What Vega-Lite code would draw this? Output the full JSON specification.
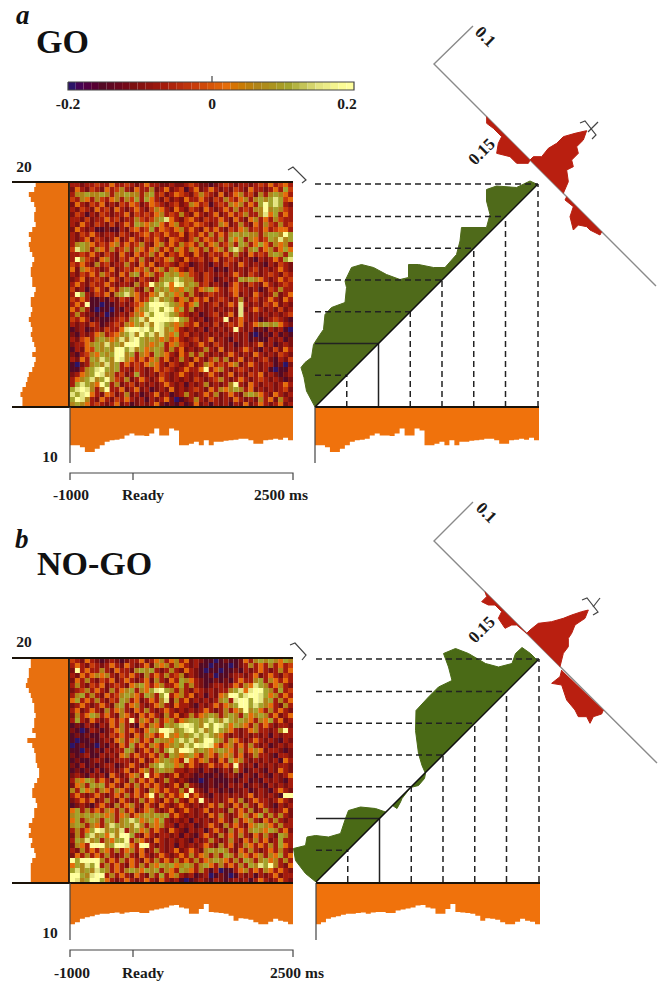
{
"$schema":"https://vega.github.io/schema/vega-lite/v6.json",
"width":662,"height":983,"padding":0,"autosize":{"type":"none"},"background":"#ffffff",
"config":{"view":{"stroke":null},"axis":{"disable":true}},
"resolve":{"scale":{"x":"independent","y":"independent"}},
"datasets":{
"heatA":[
{"r":0,"v":[3,3,2,3,3,4,3,3,5,3,3,4,3,2,3,5,3,3,2,2,3,2,2,3,4,3,2,2,1,2,3,4,3,2,3,3,2,3,4,3,5,3,4,5,3]},
{"r":1,"v":[2,5,3,2,4,3,2,5,3,4,6,3,2,5,3,3,6,2,3,5,2,3,4,1,3,5,2,3,5,3,2,3,2,4,3,2,5,3,3,2,3,5,3,7,4]},
{"r":2,"v":[3,6,6,7,6,6,7,6,3,6,6,7,6,6,3,6,7,3,4,2,3,5,4,3,2,4,6,4,3,2,5,2,3,5,6,3,4,2,6,3,6,7,6,5,3]},
{"r":3,"v":[4,3,6,5,3,6,4,3,5,6,3,6,4,7,3,7,5,3,2,4,2,3,2,5,3,3,5,3,2,4,3,6,4,3,5,6,3,6,7,6,7,8,7,4,5]},
{"r":4,"v":[2,5,3,2,4,3,5,2,3,2,4,3,5,4,2,3,5,4,3,2,3,4,2,3,6,5,3,4,1,3,4,3,6,5,6,3,5,3,7,9,7,8,7,3,2]},
{"r":5,"v":[3,2,4,3,2,5,3,4,2,5,3,2,3,5,3,2,4,6,5,3,2,5,3,2,4,3,2,5,3,2,3,5,3,6,3,4,3,6,6,9,6,7,6,4,3]},
{"r":6,"v":[2,4,3,1,3,2,4,3,2,3,3,5,2,4,3,4,3,5,6,3,4,3,6,3,2,5,3,2,3,5,2,3,5,3,4,6,3,3,6,8,5,7,3,5,3]},
{"r":7,"v":[3,3,2,4,2,3,3,5,3,4,2,3,3,6,4,3,4,6,7,8,5,3,2,4,5,3,2,4,3,3,5,3,2,5,3,2,5,6,3,5,3,6,4,3,3]},
{"r":8,"v":[3,2,5,3,2,4,3,2,4,2,3,5,3,7,6,5,6,7,5,3,5,6,3,4,3,5,4,3,2,3,6,5,2,3,6,3,2,5,3,6,4,3,6,3,4]},
{"r":9,"v":[2,5,3,2,3,1,1,2,1,1,3,2,4,5,3,4,7,3,5,4,3,5,6,3,5,3,2,5,3,5,3,2,4,3,5,6,3,4,3,5,3,4,5,5,3]},
{"r":10,"v":[3,2,4,3,5,3,2,3,3,2,4,3,2,3,4,5,3,4,3,5,3,3,5,2,4,3,5,3,6,3,5,3,6,7,6,7,6,6,3,6,7,7,6,9,7]},
{"r":11,"v":[3,2,3,5,2,4,3,2,3,5,2,3,5,3,2,4,3,5,3,2,5,4,3,2,4,6,3,5,4,3,6,3,7,5,7,3,6,5,3,4,7,6,8,6,7]},
{"r":12,"v":[3,6,7,6,5,3,4,3,5,6,3,5,3,4,6,3,2,5,6,3,5,3,6,4,5,3,6,3,5,6,3,4,6,3,7,6,3,5,7,5,3,6,5,6,3]},
{"r":13,"v":[4,8,7,6,3,6,5,3,6,3,4,6,3,6,5,3,5,6,3,5,3,6,5,3,6,5,3,6,3,5,6,3,7,8,6,3,6,7,3,5,6,3,5,7,5]},
{"r":14,"v":[3,3,4,3,5,3,2,4,3,2,5,3,2,5,3,4,6,3,5,2,4,3,5,3,2,5,3,2,4,3,3,5,3,6,3,2,5,3,4,3,6,7,6,3,7]},
{"r":15,"v":[3,9,6,4,3,2,5,6,3,2,4,3,5,3,6,3,2,4,3,5,6,3,2,5,3,3,4,2,3,5,2,3,4,3,2,3,2,1,3,2,3,5,3,7,8]},
{"r":16,"v":[4,3,5,3,2,6,3,4,2,3,3,6,3,2,5,3,5,2,3,4,3,2,4,3,1,2,3,2,1,3,2,4,3,2,5,3,2,3,2,1,3,2,4,3,2]},
{"r":17,"v":[5,2,6,5,4,3,2,3,5,2,3,4,3,5,4,6,3,5,6,3,6,5,3,2,4,2,3,2,3,1,2,1,3,2,3,2,3,4,2,3,2,3,5,3,2]},
{"r":18,"v":[3,2,4,3,5,3,6,4,3,2,5,3,6,7,3,5,6,3,4,7,6,7,5,6,4,3,2,4,3,2,3,2,3,5,3,2,4,3,2,3,4,3,2,4,3]},
{"r":19,"v":[2,3,5,2,3,4,3,2,5,3,2,4,3,2,4,3,2,3,6,7,7,8,7,6,6,3,2,4,3,1,2,3,2,3,7,6,7,6,5,3,2,3,5,3,4]},
{"r":20,"v":[3,5,3,2,4,3,3,5,3,2,3,3,2,6,3,4,9,6,7,8,5,9,8,6,7,6,3,4,2,3,2,1,3,5,3,2,4,3,2,5,3,2,3,4,3]},
{"r":21,"v":[4,2,3,1,3,5,3,2,5,3,6,7,6,3,2,6,3,7,6,7,5,6,5,7,6,3,5,6,7,5,3,2,4,5,3,3,2,3,1,2,4,3,6,3,3]},
{"r":22,"v":[3,9,7,3,2,4,3,5,2,6,7,8,6,5,3,3,5,6,8,6,7,5,6,3,6,3,2,3,4,3,3,2,3,5,2,3,2,5,3,2,3,6,2,3,5]},
{"r":23,"v":[4,3,5,3,1,1,2,1,3,2,4,3,2,5,3,4,7,8,6,7,6,3,5,6,3,5,3,5,2,3,4,3,2,3,6,2,3,4,2,3,5,3,2,5,3]},
{"r":24,"v":[3,5,3,9,1,1,0,1,1,2,3,2,3,4,5,7,9,9,9,8,7,6,5,3,5,7,3,2,3,4,2,3,5,3,8,3,2,3,2,4,3,5,2,3,2]},
{"r":25,"v":[5,3,6,3,1,0,1,1,0,2,1,3,2,5,6,7,8,9,7,9,8,5,7,3,6,2,3,2,3,2,3,2,3,2,8,2,3,5,3,2,3,2,4,2,3]},
{"r":26,"v":[3,6,3,2,2,1,2,0,1,2,3,2,4,6,5,8,7,9,9,8,7,6,4,3,2,3,1,2,3,4,2,3,5,2,8,3,2,3,2,3,2,3,2,3,4]},
{"r":27,"v":[4,3,5,3,1,2,1,1,2,3,4,3,6,7,8,6,9,9,9,9,8,9,7,6,3,2,3,1,2,3,3,9,2,3,5,3,2,3,1,2,3,4,3,2,1]},
{"r":28,"v":[3,2,3,2,4,3,1,2,3,4,3,6,5,7,6,8,6,9,8,7,6,5,6,4,3,5,2,3,2,4,2,3,4,3,5,2,3,5,6,7,6,7,5,3,2]},
{"r":29,"v":[1,2,3,1,2,3,2,4,3,3,5,8,9,9,8,9,7,9,8,6,7,5,3,2,3,2,3,1,3,2,3,2,3,9,3,2,3,1,2,1,3,2,3,1,0]},
{"r":30,"v":[2,1,3,2,3,5,6,3,4,5,6,7,8,6,9,7,8,6,8,6,5,7,3,4,2,3,2,3,2,3,2,3,2,3,2,3,1,0,1,2,1,3,1,2,1]},
{"r":31,"v":[3,2,4,5,3,6,7,6,5,6,8,6,8,9,7,6,7,6,5,6,4,5,3,2,3,4,2,3,5,2,3,2,1,3,2,3,1,2,1,1,3,2,3,1,2]},
{"r":32,"v":[2,3,3,5,6,7,6,8,6,7,6,9,9,9,7,6,5,6,7,3,5,6,4,3,2,3,5,3,2,4,3,2,3,1,2,3,2,3,5,2,3,1,2,3,2]},
{"r":33,"v":[1,3,2,5,4,7,6,7,6,9,9,7,8,6,7,5,6,7,6,3,6,3,5,2,3,2,3,6,3,2,5,2,3,2,3,5,3,2,1,3,2,4,2,5,3]},
{"r":34,"v":[2,1,3,4,6,5,7,6,7,9,9,6,7,3,6,5,3,7,6,5,3,2,5,3,6,3,6,3,2,3,2,3,5,3,2,3,2,5,3,2,3,2,4,3,2]},
{"r":35,"v":[3,2,5,3,7,6,8,7,6,9,8,6,5,3,5,3,5,6,3,5,2,3,6,3,2,5,3,2,4,6,3,6,2,3,5,2,3,2,3,4,2,1,3,2,4]},
{"r":36,"v":[1,0,2,3,6,7,6,8,6,7,3,5,3,4,3,5,6,5,3,2,4,3,2,3,5,2,3,6,5,3,4,3,5,6,2,3,5,3,2,3,3,1,2,0,2]},
{"r":37,"v":[1,1,3,6,7,8,9,7,6,7,3,3,2,4,3,2,3,5,3,4,3,2,3,5,3,3,5,9,3,5,6,3,2,3,4,3,2,3,2,3,1,0,1,1,3]},
{"r":38,"v":[2,3,5,6,7,9,8,6,6,3,4,2,3,7,3,2,3,2,4,3,2,3,5,3,2,3,2,3,5,3,2,3,5,2,3,2,4,3,5,2,3,2,1,2,3]},
{"r":39,"v":[3,5,6,7,8,6,7,9,6,4,3,6,2,3,5,3,2,3,5,3,2,3,2,3,2,4,3,2,3,4,6,3,2,3,5,3,2,3,4,3,2,3,2,1,2]},
{"r":40,"v":[3,7,8,7,6,5,9,7,3,6,2,3,4,2,3,2,3,2,3,5,3,2,3,1,3,2,3,6,2,3,2,3,6,9,3,2,5,3,2,3,3,2,3,5,3]},
{"r":41,"v":[7,8,9,8,6,3,6,9,3,3,5,2,3,5,2,3,1,2,3,2,5,2,3,2,3,4,3,2,5,3,6,5,6,7,6,3,5,2,3,2,3,2,3,4,2]},
{"r":42,"v":[8,7,8,9,5,3,2,5,4,2,3,6,2,3,1,2,3,5,2,3,1,2,3,6,3,2,3,5,3,6,2,3,5,3,2,6,7,6,5,3,2,5,3,2,3]},
{"r":43,"v":[7,9,8,6,3,2,5,3,2,4,3,5,3,2,3,1,3,2,3,5,2,0,1,2,3,6,3,2,4,3,2,3,2,5,3,2,3,2,6,3,5,2,6,3,2]},
{"r":44,"v":[6,7,6,5,3,4,3,2,3,5,2,3,1,2,3,2,3,5,2,1,2,1,3,1,2,5,2,3,1,3,2,3,1,3,2,5,2,3,5,3,2,3,5,2,3]}
],
"heatB":[
{"r":0,"v":[4,3,2,5,3,2,1,2,3,2,1,2,3,3,5,2,3,5,6,3,5,6,3,5,2,3,2,1,1,0,1,2,1,1,2,5,3,6,7,6,7,6,5,7,6]},
{"r":1,"v":[3,5,3,2,4,3,2,3,5,3,2,5,3,2,3,5,2,6,5,6,3,6,5,3,2,3,1,1,0,1,1,1,0,1,2,3,6,3,5,3,6,3,5,3,4]},
{"r":2,"v":[2,9,3,5,3,3,6,3,2,5,3,3,2,6,7,6,7,3,2,3,6,3,2,5,3,2,1,0,1,1,0,1,1,2,1,3,2,3,5,3,2,3,6,3,5]},
{"r":3,"v":[3,2,5,3,5,6,5,6,3,2,4,3,5,3,2,6,3,5,3,6,3,4,6,2,3,2,1,1,2,0,1,1,2,3,3,2,3,5,2,3,5,3,2,4,3]},
{"r":4,"v":[2,5,3,6,3,2,4,3,5,2,3,5,3,2,3,5,2,6,3,2,5,3,7,6,5,3,2,1,1,2,1,2,1,3,5,3,3,6,7,3,6,5,3,5,3]},
{"r":5,"v":[3,6,3,2,4,3,5,2,3,4,3,2,5,6,7,5,3,5,6,3,3,5,7,3,6,3,2,1,2,3,3,2,3,5,3,6,5,8,7,6,3,5,6,3,2]},
{"r":6,"v":[2,3,4,6,3,5,3,2,6,3,5,6,7,3,6,5,7,8,9,7,6,3,6,3,2,4,3,2,3,2,3,3,6,7,8,5,8,9,9,7,6,3,7,3,4]},
{"r":7,"v":[3,6,7,3,6,3,2,5,3,4,6,7,6,5,3,7,6,3,7,9,3,5,6,3,5,2,3,1,3,2,5,6,9,9,7,8,9,9,8,7,5,6,3,5,3]},
{"r":8,"v":[5,7,3,5,3,6,3,2,4,3,7,6,3,5,2,3,5,3,6,8,2,6,3,5,2,3,2,3,2,3,6,7,3,8,9,9,7,9,8,6,7,3,6,3,5]},
{"r":9,"v":[2,3,5,3,2,3,5,3,2,6,7,3,5,6,3,2,3,5,6,3,2,5,3,3,2,1,3,2,3,5,3,5,6,7,9,9,7,8,7,6,5,3,2,6,3]},
{"r":10,"v":[3,5,2,3,5,3,2,6,3,5,6,3,2,5,3,6,3,2,3,5,3,2,3,2,3,2,3,5,3,2,3,6,3,5,6,9,6,7,5,3,6,3,5,3,2]},
{"r":11,"v":[2,6,3,5,7,6,3,5,3,2,6,5,3,2,5,3,5,3,2,6,3,5,2,3,6,3,5,6,7,6,3,6,7,6,3,7,5,6,7,6,3,5,2,3,5]},
{"r":12,"v":[3,7,3,2,5,3,2,3,5,3,5,3,9,3,6,5,3,6,3,5,6,3,5,6,7,7,6,7,8,7,6,8,7,6,7,6,5,3,6,5,7,3,5,2,3]},
{"r":13,"v":[1,2,1,3,2,1,3,2,5,3,6,3,2,1,5,3,6,5,3,7,6,7,8,9,8,7,6,9,7,9,8,7,5,7,6,5,3,6,3,5,3,2,3,3,2]},
{"r":14,"v":[2,1,0,1,3,2,1,2,3,5,6,3,5,3,2,5,7,6,9,9,8,6,7,8,9,7,8,6,7,9,7,6,5,3,2,3,5,6,3,3,2,3,6,9,3]},
{"r":15,"v":[1,2,1,2,1,1,3,2,4,3,5,3,2,5,3,6,5,3,5,9,6,5,7,6,7,8,7,8,7,6,5,3,2,3,2,3,2,3,2,3,1,3,2,3,3]},
{"r":16,"v":[1,0,1,1,2,1,2,3,2,5,6,3,5,6,3,5,3,7,6,6,5,7,8,7,8,6,7,9,9,7,6,3,6,5,3,2,3,5,3,2,3,2,1,3,2]},
{"r":17,"v":[0,1,2,1,1,0,2,1,3,2,5,3,7,3,5,3,6,5,3,5,6,7,6,8,7,9,8,9,8,5,3,5,6,3,5,3,6,3,2,3,1,2,3,2,3]},
{"r":18,"v":[1,1,0,2,1,2,1,3,2,3,3,7,6,2,3,5,3,6,3,7,8,6,9,9,8,6,7,6,5,6,7,6,5,3,6,3,5,6,5,2,3,3,2,1,2]},
{"r":19,"v":[2,1,2,3,1,1,3,2,3,2,5,6,3,5,3,3,5,3,6,3,7,6,5,6,7,5,3,6,5,3,6,5,6,3,5,2,3,6,3,3,2,1,3,3,2]},
{"r":20,"v":[1,2,1,1,2,3,2,1,2,3,3,3,2,3,5,2,3,5,6,7,6,5,3,8,5,3,5,6,3,2,5,3,7,5,6,3,2,3,2,3,2,3,1,5,3]},
{"r":21,"v":[2,1,3,1,2,1,2,3,3,1,2,3,5,3,2,3,6,7,8,7,7,5,6,3,5,3,2,3,5,3,3,5,3,9,3,2,3,1,3,2,3,2,3,3,2]},
{"r":22,"v":[1,2,1,2,1,3,1,2,3,2,3,5,2,3,5,6,3,6,7,6,6,3,3,2,3,2,1,3,2,1,2,3,2,6,3,1,2,3,2,1,3,2,5,3,2]},
{"r":23,"v":[2,3,2,1,3,2,3,1,5,3,2,3,5,6,3,9,3,5,3,2,3,5,2,3,2,1,2,1,1,2,1,2,3,2,1,3,2,1,3,2,1,3,2,3,5]},
{"r":24,"v":[3,6,5,7,6,3,5,3,2,5,3,2,6,3,5,3,5,2,3,6,3,2,3,2,1,1,0,1,2,1,1,1,2,1,2,3,1,2,1,3,2,3,2,1,3]},
{"r":25,"v":[2,5,6,3,7,6,7,3,5,3,2,5,3,6,3,5,3,5,3,2,3,5,2,6,3,2,1,1,2,1,2,1,3,2,3,1,2,3,2,1,3,2,3,2,3]},
{"r":26,"v":[6,3,7,5,6,3,6,5,3,6,5,3,2,5,3,2,6,5,3,5,3,3,6,3,9,3,2,1,3,2,1,2,1,2,2,3,1,2,3,2,1,3,5,3,2]},
{"r":27,"v":[3,5,3,2,3,5,3,2,3,5,3,6,3,5,3,5,9,3,6,3,5,3,5,9,3,5,3,2,1,3,2,3,2,3,2,3,5,2,3,2,3,2,1,9,9]},
{"r":28,"v":[2,3,5,3,5,2,3,6,3,2,5,3,2,3,6,3,5,3,2,5,3,6,3,2,5,3,9,3,2,3,2,3,5,3,6,2,3,5,3,3,2,3,5,3,2]},
{"r":29,"v":[1,2,3,2,1,3,5,3,2,6,3,5,6,3,2,5,3,2,5,3,2,3,5,3,2,3,2,3,5,3,6,3,2,5,3,6,3,2,5,3,2,1,3,2,3]},
{"r":30,"v":[5,7,3,6,3,5,3,6,5,3,6,3,5,2,3,5,6,3,2,3,5,2,3,5,3,2,3,5,2,3,3,2,6,3,5,3,6,2,3,6,3,2,3,5,2]},
{"r":31,"v":[6,7,6,7,6,7,6,5,6,3,5,6,3,5,6,7,6,7,6,7,3,5,3,2,3,2,3,2,5,3,6,3,2,3,5,6,3,5,7,3,6,3,6,3,2]},
{"r":32,"v":[5,7,3,6,7,6,3,7,6,3,6,7,8,7,5,6,7,5,7,3,2,3,2,3,1,3,2,3,2,3,5,3,2,6,3,5,6,3,2,5,3,6,3,2,3]},
{"r":33,"v":[6,7,6,3,6,5,3,6,8,7,6,7,6,8,6,3,6,5,6,3,3,1,3,2,3,1,2,3,5,3,2,6,3,5,3,2,5,6,7,6,5,3,6,3,3]},
{"r":34,"v":[3,6,3,5,7,9,8,6,7,6,8,3,6,7,5,6,3,5,3,2,5,3,2,1,3,2,3,1,3,5,3,2,6,3,5,3,6,7,6,5,7,6,3,5,2]},
{"r":35,"v":[2,6,3,7,8,6,7,5,8,6,9,9,7,3,2,5,3,2,3,3,2,3,1,3,2,1,3,5,3,2,6,3,5,3,6,3,2,5,3,6,3,2,7,6,3]},
{"r":36,"v":[3,7,6,8,6,7,3,6,5,7,7,9,3,6,5,3,2,5,3,2,3,2,3,2,1,3,2,3,6,3,2,3,6,3,2,5,3,6,3,5,2,3,7,3,3]},
{"r":37,"v":[2,6,5,3,9,9,9,6,7,9,9,8,5,3,9,9,3,2,3,2,3,1,3,2,3,2,3,5,3,2,6,3,5,2,3,6,5,3,5,3,6,3,7,5,3]},
{"r":38,"v":[3,2,6,3,5,3,6,5,3,6,3,5,6,3,5,2,3,6,3,2,3,5,2,3,5,3,2,6,7,6,7,6,3,2,5,3,6,3,2,3,5,3,6,3,2]},
{"r":39,"v":[2,5,3,6,3,5,3,6,3,2,3,6,3,2,5,3,2,3,5,3,2,3,5,3,6,3,5,6,3,6,3,7,6,3,6,5,3,5,6,3,6,5,7,3,5]},
{"r":40,"v":[9,7,9,9,9,9,6,3,5,3,6,3,5,3,2,5,3,6,3,5,3,6,3,5,3,6,3,5,6,7,6,5,3,6,3,7,6,3,6,7,5,6,3,6,3]},
{"r":41,"v":[5,7,6,8,7,9,3,6,3,5,3,2,5,3,6,3,6,5,7,6,7,5,6,7,6,3,6,7,5,3,6,3,5,3,6,3,7,6,8,7,9,6,3,2,5]},
{"r":42,"v":[7,8,6,7,6,8,7,6,3,5,3,6,7,6,5,7,6,7,3,6,5,3,7,6,5,3,6,3,1,3,0,1,1,3,5,6,3,5,3,6,5,3,5,3,2]},
{"r":43,"v":[9,9,7,6,8,9,9,3,6,3,5,3,2,5,3,2,6,3,7,3,5,6,3,2,3,1,2,3,0,1,2,1,0,1,3,2,3,1,3,2,3,5,2,3,3]},
{"r":44,"v":[9,8,6,7,9,9,7,5,3,2,3,5,3,2,3,5,3,2,5,3,2,3,1,0,1,2,3,2,1,3,2,1,2,3,2,3,1,3,5,3,2,3,5,3,2]}
],
"bottomA":[{"t":0,"n":7.8},{"t":1,"n":7.8},{"t":2,"n":8.2},{"t":3,"n":9.2},{"t":4,"n":9.2},{"t":5,"n":8.5},{"t":6,"n":7.8},{"t":7,"n":7.1},{"t":8,"n":6.8},{"t":9,"n":6.7},{"t":10,"n":6.5},{"t":11,"n":5.8},{"t":12,"n":5.4},{"t":13,"n":5.8},{"t":14,"n":5.8},{"t":15,"n":5.9},{"t":16,"n":5.4},{"t":17,"n":4.4},{"t":18,"n":5.8},{"t":19,"n":5.8},{"t":20,"n":4.4},{"t":21,"n":4.8},{"t":22,"n":7.8},{"t":23,"n":7.8},{"t":24,"n":7.5},{"t":25,"n":7.1},{"t":26,"n":7.8},{"t":27,"n":6.8},{"t":28,"n":7.8},{"t":29,"n":7.1},{"t":30,"n":7.1},{"t":31,"n":6.9},{"t":32,"n":6.8},{"t":33,"n":6.7},{"t":34,"n":6.5},{"t":35,"n":6.5},{"t":36,"n":6.8},{"t":37,"n":7.5},{"t":38,"n":7.5},{"t":39,"n":6.8},{"t":40,"n":6.7},{"t":41,"n":6.5},{"t":42,"n":6.7},{"t":43,"n":6.3},{"t":44,"n":6.8},{"t":45,"n":6.8}],
"bottomB":[{"t":0,"n":8.4},{"t":1,"n":8.0},{"t":2,"n":7.3},{"t":3,"n":7.0},{"t":4,"n":6.8},{"t":5,"n":6.5},{"t":6,"n":6.3},{"t":7,"n":6.3},{"t":8,"n":6.1},{"t":9,"n":6.0},{"t":10,"n":6.3},{"t":11,"n":6.0},{"t":12,"n":5.9},{"t":13,"n":5.9},{"t":14,"n":6.1},{"t":15,"n":6.1},{"t":16,"n":5.6},{"t":17,"n":5.4},{"t":18,"n":5.2},{"t":19,"n":5.0},{"t":20,"n":4.6},{"t":21,"n":4.5},{"t":22,"n":5.0},{"t":23,"n":5.2},{"t":24,"n":6.3},{"t":25,"n":6.3},{"t":26,"n":5.3},{"t":27,"n":4.3},{"t":28,"n":5.9},{"t":29,"n":6.0},{"t":30,"n":6.1},{"t":31,"n":6.3},{"t":32,"n":6.7},{"t":33,"n":7.7},{"t":34,"n":7.2},{"t":35,"n":7.3},{"t":36,"n":7.5},{"t":37,"n":8.0},{"t":38,"n":8.4},{"t":39,"n":8.4},{"t":40,"n":7.9},{"t":41,"n":7.3},{"t":42,"n":7.7},{"t":43,"n":7.9},{"t":44,"n":8.4},{"t":45,"n":8.4}],
"leftA":[{"t":0,"n":7.1},{"t":1,"n":6.8},{"t":2,"n":7.1},{"t":3,"n":8.2},{"t":4,"n":7.8},{"t":5,"n":7.1},{"t":6,"n":6.8},{"t":7,"n":7.1},{"t":8,"n":7.1},{"t":9,"n":6.8},{"t":10,"n":7.5},{"t":11,"n":8.2},{"t":12,"n":7.8},{"t":13,"n":8.2},{"t":14,"n":8.0},{"t":15,"n":7.5},{"t":16,"n":7.1},{"t":17,"n":7.5},{"t":18,"n":7.8},{"t":19,"n":7.8},{"t":20,"n":7.5},{"t":21,"n":7.5},{"t":22,"n":6.8},{"t":23,"n":7.1},{"t":24,"n":7.8},{"t":25,"n":7.8},{"t":26,"n":7.5},{"t":27,"n":7.8},{"t":28,"n":8.2},{"t":29,"n":7.8},{"t":30,"n":7.5},{"t":31,"n":7.8},{"t":32,"n":7.5},{"t":33,"n":7.1},{"t":34,"n":6.8},{"t":35,"n":7.5},{"t":36,"n":6.8},{"t":37,"n":7.1},{"t":38,"n":7.5},{"t":39,"n":8.2},{"t":40,"n":8.5},{"t":41,"n":8.8},{"t":42,"n":9.5},{"t":43,"n":9.9},{"t":44,"n":9.5},{"t":45,"n":9.5}],
"leftB":[{"t":0,"n":8.2},{"t":1,"n":7.8},{"t":2,"n":7.8},{"t":3,"n":8.2},{"t":4,"n":8.2},{"t":5,"n":8.5},{"t":6,"n":8.8},{"t":7,"n":8.2},{"t":8,"n":7.8},{"t":9,"n":7.5},{"t":10,"n":7.1},{"t":11,"n":7.1},{"t":12,"n":6.8},{"t":13,"n":7.1},{"t":14,"n":7.1},{"t":15,"n":7.5},{"t":16,"n":6.8},{"t":17,"n":8.5},{"t":18,"n":7.5},{"t":19,"n":7.1},{"t":20,"n":6.8},{"t":21,"n":6.8},{"t":22,"n":6.5},{"t":23,"n":6.1},{"t":24,"n":6.1},{"t":25,"n":6.5},{"t":26,"n":7.1},{"t":27,"n":7.5},{"t":28,"n":7.5},{"t":29,"n":6.8},{"t":30,"n":6.5},{"t":31,"n":7.1},{"t":32,"n":7.1},{"t":33,"n":7.5},{"t":34,"n":8.2},{"t":35,"n":7.8},{"t":36,"n":8.2},{"t":37,"n":7.5},{"t":38,"n":7.8},{"t":39,"n":7.1},{"t":40,"n":6.8},{"t":41,"n":7.5},{"t":42,"n":7.8},{"t":43,"n":7.8},{"t":44,"n":7.8},{"t":45,"n":7.8}],
"greenA":[{"t":0,"u":0},{"t":-1.7,"u":3.2},{"t":-2.2,"u":5.9},{"t":-2.8,"u":7.9},{"t":-2,"u":8.9},{"t":-0.7,"u":9.9},{"t":-0.3,"u":12.5},{"t":1,"u":14.5},{"t":1.7,"u":15.5},{"t":2,"u":18.5},{"t":3.3,"u":19.9},{"t":6,"u":20.9},{"t":6.3,"u":23.9},{"t":6,"u":25.2},{"t":7.3,"u":27.9},{"t":9.3,"u":28.5},{"t":11.7,"u":27.9},{"t":14.3,"u":26.5},{"t":17,"u":25.5},{"t":18.7,"u":25.9},{"t":18.7,"u":28.5},{"t":20.7,"u":28.5},{"t":23.7,"u":27.9},{"t":26,"u":27.9},{"t":28.3,"u":30.5},{"t":29,"u":33.2},{"t":29.3,"u":35.9},{"t":32,"u":35.9},{"t":34.3,"u":35.9},{"t":35,"u":38.5},{"t":34.3,"u":41.2},{"t":34.3,"u":43.5},{"t":36.3,"u":44.2},{"t":40.3,"u":43.9},{"t":43,"u":45.2},{"t":44.5,"u":44.5}],
"greenB":[{"t":0,"u":0},{"t":-2.1,"u":1.7},{"t":-4.1,"u":4.3},{"t":-4.5,"u":6.7},{"t":-2.1,"u":7.3},{"t":-1.8,"u":9},{"t":-0.1,"u":9.3},{"t":2.5,"u":9},{"t":4.9,"u":9.7},{"t":5.9,"u":12.7},{"t":6.5,"u":14.3},{"t":8.9,"u":15},{"t":11.9,"u":14.7},{"t":13.9,"u":14},{"t":14.2,"u":14.2},{"t":15.3,"u":15.3},{"t":16.2,"u":14.7},{"t":16.9,"u":16},{"t":17.2,"u":16.7},{"t":18.9,"u":18.9},{"t":20.5,"u":19.3},{"t":21.7,"u":20.7},{"t":21.9,"u":21.7},{"t":21.2,"u":23.3},{"t":20.5,"u":25.7},{"t":19.9,"u":30.3},{"t":20,"u":34.3},{"t":22.5,"u":37},{"t":24.5,"u":39},{"t":27.2,"u":40.3},{"t":26.5,"u":43},{"t":25.5,"u":45.7},{"t":27.9,"u":46.7},{"t":30.5,"u":45.7},{"t":33.9,"u":43.7},{"t":36.5,"u":43},{"t":39.2,"u":43.7},{"t":39.9,"u":45.7},{"t":41.2,"u":46.9},{"t":42.9,"u":45.7},{"t":44.3,"u":44.3}],
"grid":[{"k":6.35,"o":0,"s":"dash"},{"k":12.7,"o":0,"s":"solid"},{"k":19.05,"o":0,"s":"dash"},{"k":25.4,"o":0,"s":"dash"},{"k":31.75,"o":0,"s":"dash"},{"k":38.1,"o":0,"s":"dash"},{"k":44.6,"o":0,"s":"dash"}],
"diag":[{"t":0,"u":0},{"t":44.5,"u":44.5}],
"redA":[{"p":1,"x":720,"y":480},{"p":1,"x":730,"y":470},{"p":1,"x":755,"y":470},{"p":1,"x":775,"y":445},{"p":1,"x":800,"y":430},{"p":1,"x":820,"y":410},{"p":1,"x":855,"y":400},{"p":1,"x":890,"y":392},{"p":1,"x":880,"y":420},{"p":1,"x":860,"y":440},{"p":1,"x":865,"y":460},{"p":1,"x":845,"y":480},{"p":1,"x":850,"y":500},{"p":1,"x":830,"y":510},{"p":1,"x":835,"y":545},{"p":1,"x":820,"y":580},
{"p":2,"x":590,"y":350},{"p":2,"x":590,"y":370},{"p":2,"x":610,"y":385},{"p":2,"x":635,"y":410},{"p":2,"x":625,"y":430},{"p":2,"x":620,"y":460},{"p":2,"x":660,"y":470},{"p":2,"x":680,"y":490},{"p":2,"x":715,"y":490},{"p":2,"x":720,"y":480},
{"p":3,"x":830,"y":590},{"p":3,"x":825,"y":600},{"p":3,"x":850,"y":620},{"p":3,"x":840,"y":650},{"p":3,"x":850,"y":690},{"p":3,"x":865,"y":675},{"p":3,"x":890,"y":680},{"p":3,"x":900,"y":690},{"p":3,"x":930,"y":705},{"p":3,"x":935,"y":695}],
"redB":[{"p":1,"x":725,"y":430},{"p":1,"x":735,"y":420},{"p":1,"x":760,"y":400},{"p":1,"x":800,"y":395},{"p":1,"x":835,"y":385},{"p":1,"x":860,"y":375},{"p":1,"x":890,"y":365},{"p":1,"x":910,"y":360},{"p":1,"x":900,"y":385},{"p":1,"x":870,"y":405},{"p":1,"x":860,"y":430},{"p":1,"x":850,"y":445},{"p":1,"x":850,"y":470},{"p":1,"x":835,"y":490},{"p":1,"x":825,"y":530},
{"p":2,"x":600,"y":305},{"p":2,"x":605,"y":320},{"p":2,"x":590,"y":335},{"p":2,"x":610,"y":345},{"p":2,"x":630,"y":345},{"p":2,"x":650,"y":365},{"p":2,"x":640,"y":385},{"p":2,"x":660,"y":415},{"p":2,"x":680,"y":405},{"p":2,"x":695,"y":405},{"p":2,"x":725,"y":430},
{"p":3,"x":830,"y":540},{"p":3,"x":825,"y":560},{"p":3,"x":800,"y":580},{"p":3,"x":830,"y":585},{"p":3,"x":845,"y":630},{"p":3,"x":870,"y":660},{"p":3,"x":880,"y":680},{"p":3,"x":905,"y":680},{"p":3,"x":915,"y":700},{"p":3,"x":925,"y":680},{"p":3,"x":950,"y":672},{"p":3,"x":955,"y":660}],
"heavy":[{"id":1,"x":12,"y":182},{"id":1,"x":293,"y":182},{"id":2,"x":12,"y":407},{"id":2,"x":293,"y":407},{"id":3,"x":69,"y":182},{"id":3,"x":69,"y":407},{"id":4,"x":315,"y":407},{"id":4,"x":539,"y":407},{"id":5,"x":12,"y":658},{"id":5,"x":293,"y":658},{"id":6,"x":12,"y":883},{"id":6,"x":293,"y":883},{"id":7,"x":69,"y":658},{"id":7,"x":69,"y":883},{"id":8,"x":316,"y":883},{"id":8,"x":540,"y":883}],
"thin":[{"id":1,"x":70,"y":407},{"id":1,"x":70,"y":463},{"id":2,"x":315,"y":407},{"id":2,"x":315,"y":463},{"id":3,"x":70,"y":883},{"id":3,"x":70,"y":940},{"id":4,"x":316,"y":883},{"id":4,"x":316,"y":940},
{"id":5,"x":70,"y":480},{"id":5,"x":70,"y":473},{"id":5,"x":293,"y":473},{"id":5,"x":293,"y":480},{"id":6,"x":133,"y":473},{"id":6,"x":133,"y":480},
{"id":7,"x":70,"y":957},{"id":7,"x":70,"y":950},{"id":7,"x":293,"y":950},{"id":7,"x":293,"y":957},{"id":8,"x":133,"y":950},{"id":8,"x":133,"y":957},
{"id":9,"x":288,"y":170},{"id":9,"x":293,"y":167},{"id":9,"x":306,"y":180},{"id":9,"x":302,"y":183},
{"id":10,"x":290,"y":645},{"id":10,"x":295,"y":643},{"id":10,"x":306,"y":655},{"id":10,"x":302,"y":660},
{"id":11,"x":212,"y":76},{"id":11,"x":212,"y":82},
{"id":12,"x":68,"y":82},{"id":12,"x":354,"y":82},{"id":12,"x":354,"y":90},{"id":12,"x":68,"y":90},{"id":12,"x":68,"y":82},
{"id":13,"x":580,"y":123},{"id":13,"x":585,"y":121},{"id":13,"x":596,"y":135},{"id":13,"x":592,"y":139},{"id":14,"x":598,"y":122},{"id":14,"x":588,"y":132},
{"id":15,"x":582,"y":600},{"id":15,"x":587,"y":598},{"id":15,"x":598,"y":612},{"id":15,"x":593,"y":615},{"id":16,"x":600,"y":598},{"id":16,"x":593,"y":607}],
"gray":[{"id":1,"x":473,"y":26},{"id":1,"x":434,"y":64},{"id":1,"x":656,"y":286},{"id":2,"x":473,"y":502},{"id":2,"x":434,"y":541},{"id":2,"x":657,"y":763}],
"bar":[{"v":0,"b":1},{"v":0.25,"b":1},{"v":0.5,"b":1},{"v":0.75,"b":1},{"v":1,"b":1},{"v":1.25,"b":1},{"v":1.5,"b":1},{"v":1.75,"b":1},{"v":2,"b":1},{"v":2.25,"b":1},{"v":2.5,"b":1},{"v":2.75,"b":1},{"v":3,"b":1},{"v":3.25,"b":1},{"v":3.5,"b":1},{"v":3.75,"b":1},{"v":4,"b":1},{"v":4.25,"b":1},{"v":4.5,"b":1},{"v":4.75,"b":1},{"v":5,"b":1},{"v":5.25,"b":1},{"v":5.5,"b":1},{"v":5.75,"b":1},{"v":6,"b":1},{"v":6.25,"b":1},{"v":6.5,"b":1},{"v":6.75,"b":1},{"v":7,"b":1},{"v":7.25,"b":1},{"v":7.5,"b":1},{"v":7.75,"b":1},{"v":8,"b":1},{"v":8.25,"b":1},{"v":8.5,"b":1},{"v":8.75,"b":1},{"v":9,"b":1}],
"small":[{"s":"-0.2","x":68,"y":109},{"s":"0","x":212,"y":109},{"s":"0.2","x":347,"y":109},{"s":"20","x":24,"y":172},{"s":"10","x":50,"y":462},{"s":"-1000","x":71,"y":500},{"s":"Ready","x":143,"y":500},{"s":"2500 ms","x":281,"y":500},{"s":"20","x":24,"y":647},{"s":"10","x":50,"y":938},{"s":"-1000","x":72,"y":978},{"s":"Ready","x":143,"y":978},{"s":"2500 ms","x":297,"y":978}],
"titles":[{"s":"GO","x":36,"y":53},{"s":"NO-GO","x":37,"y":575}],
"letters":[{"s":"a","x":16,"y":24},{"s":"b","x":15,"y":548}],
"down":[{"s":"0.1","x":485,"y":37},{"s":"0.1","x":486,"y":513}],
"up":[{"s":"0.15","x":482,"y":152},{"s":"0.15","x":482,"y":630}]
},
"layer":[
{"data":{"name":"heatA"},"transform":[{"flatten":["v"]},{"window":[{"op":"row_number","as":"t"}],"groupby":["r"]}],"mark":"rect","encoding":{
"x":{"field":"t","type":"ordinal","axis":null,"scale":{"range":[70,293],"paddingInner":0,"paddingOuter":0}},
"y":{"field":"r","type":"ordinal","axis":null,"scale":{"range":[182,407],"paddingInner":0,"paddingOuter":0}},
"color":{"field":"v","type":"quantitative","legend":null,"scale":{"domain":[0,1,2,3,4,5,6,7,8,9],"range":["#2c1468","#540a24","#7c1010","#a41c0c","#c83c0a","#e46c0a","#b08418","#a4a42c","#e4e480","#ffffff"]}}}},
{"data":{"name":"heatB"},"transform":[{"flatten":["v"]},{"window":[{"op":"row_number","as":"t"}],"groupby":["r"]}],"mark":"rect","encoding":{
"x":{"field":"t","type":"ordinal","axis":null,"scale":{"range":[70,293],"paddingInner":0,"paddingOuter":0}},
"y":{"field":"r","type":"ordinal","axis":null,"scale":{"range":[658,883],"paddingInner":0,"paddingOuter":0}},
"color":{"field":"v","type":"quantitative","legend":null,"scale":{"domain":[0,1,2,3,4,5,6,7,8,9],"range":["#2c1468","#540a24","#7c1010","#a41c0c","#c83c0a","#e46c0a","#b08418","#a4a42c","#e4e480","#ffffff"]}}}},
{"data":{"name":"bar"},"mark":"rect","encoding":{
"x":{"field":"v","type":"ordinal","axis":null,"scale":{"range":[68,354],"paddingInner":0,"paddingOuter":0}},
"y":{"field":"b","type":"ordinal","axis":null,"scale":{"range":[82,90],"paddingInner":0,"paddingOuter":0}},
"color":{"field":"v","type":"quantitative","legend":null,"scale":{"domain":[0,1,2,3,4,5,6,7,8,9],"range":["#2c1468","#540a24","#7c1010","#a41c0c","#c83c0a","#e46c0a","#b08418","#a4a42c","#e4e480","#ffffff"]}}}},
{"data":{"name":"bottomA"},"mark":{"type":"area","interpolate":"step-after","color":"#e8700f"},"encoding":{
"x":{"field":"t","type":"quantitative","axis":null,"scale":{"domain":[0,45],"range":[70,293],"nice":false,"zero":false}},
"y":{"field":"n","type":"quantitative","stack":null,"axis":null,"scale":{"domain":[0,10],"range":[407,456],"nice":false}}}},
{"data":{"name":"bottomA"},"mark":{"type":"area","interpolate":"step-after","color":"#f0720c"},"encoding":{
"x":{"field":"t","type":"quantitative","axis":null,"scale":{"domain":[0,45],"range":[315,539],"nice":false,"zero":false}},
"y":{"field":"n","type":"quantitative","stack":null,"axis":null,"scale":{"domain":[0,10],"range":[407,456],"nice":false}}}},
{"data":{"name":"bottomB"},"mark":{"type":"area","interpolate":"step-after","color":"#e8700f"},"encoding":{
"x":{"field":"t","type":"quantitative","axis":null,"scale":{"domain":[0,45],"range":[70,293],"nice":false,"zero":false}},
"y":{"field":"n","type":"quantitative","stack":null,"axis":null,"scale":{"domain":[0,10],"range":[883,932],"nice":false}}}},
{"data":{"name":"bottomB"},"mark":{"type":"area","interpolate":"step-after","color":"#f0720c"},"encoding":{
"x":{"field":"t","type":"quantitative","axis":null,"scale":{"domain":[0,45],"range":[316,540],"nice":false,"zero":false}},
"y":{"field":"n","type":"quantitative","stack":null,"axis":null,"scale":{"domain":[0,10],"range":[883,932],"nice":false}}}},
{"data":{"name":"leftA"},"mark":{"type":"area","orient":"horizontal","interpolate":"step-after","color":"#e8700f"},"encoding":{
"y":{"field":"t","type":"quantitative","axis":null,"scale":{"domain":[0,45],"range":[182,407],"nice":false,"zero":false}},
"x":{"field":"n","type":"quantitative","stack":null,"axis":null,"scale":{"domain":[0,10],"range":[69,20],"nice":false}}}},
{"data":{"name":"leftB"},"mark":{"type":"area","orient":"horizontal","interpolate":"step-after","color":"#e8700f"},"encoding":{
"y":{"field":"t","type":"quantitative","axis":null,"scale":{"domain":[0,45],"range":[658,883],"nice":false,"zero":false}},
"x":{"field":"n","type":"quantitative","stack":null,"axis":null,"scale":{"domain":[0,10],"range":[69,20],"nice":false}}}},
{"data":{"name":"greenA"},"mark":{"type":"line","fill":"#4f6a1a","stroke":"#4f6a1a","strokeWidth":1},"encoding":{
"order":{"value":null},
"x":{"field":"t","type":"quantitative","axis":null,"scale":{"domain":[0,45],"range":[315,540],"nice":false,"zero":false}},
"y":{"field":"u","type":"quantitative","axis":null,"scale":{"domain":[0,45],"range":[407,182],"nice":false,"zero":false}}}},
{"data":{"name":"greenB"},"mark":{"type":"line","fill":"#4a6a16","stroke":"#4a6a16","strokeWidth":1},"encoding":{
"order":{"value":null},
"x":{"field":"t","type":"quantitative","axis":null,"scale":{"domain":[0,45],"range":[316,541],"nice":false,"zero":false}},
"y":{"field":"u","type":"quantitative","axis":null,"scale":{"domain":[0,45],"range":[882,657],"nice":false,"zero":false}}}},
{"data":{"name":"grid"},"mark":{"type":"rule","color":"#222222","strokeWidth":1.5},"encoding":{
"x":{"field":"o","type":"quantitative","axis":null,"scale":{"domain":[0,45],"range":[315,540],"nice":false,"zero":false}},"x2":{"field":"k"},
"y":{"field":"k","type":"quantitative","axis":null,"scale":{"domain":[0,45],"range":[407,182],"nice":false,"zero":false}},
"strokeDash":{"field":"s","type":"nominal","legend":null,"scale":{"domain":["dash","solid"],"range":[[6,4],[1,0]]}}}},
{"data":{"name":"grid"},"mark":{"type":"rule","color":"#222222","strokeWidth":1.5},"encoding":{
"x":{"field":"k","type":"quantitative","axis":null,"scale":{"domain":[0,45],"range":[315,540],"nice":false,"zero":false}},
"y":{"field":"o","type":"quantitative","axis":null,"scale":{"domain":[0,45],"range":[407,182],"nice":false,"zero":false}},"y2":{"field":"k"},
"strokeDash":{"field":"s","type":"nominal","legend":null,"scale":{"domain":["dash","solid"],"range":[[6,4],[1,0]]}}}},
{"data":{"name":"grid"},"mark":{"type":"rule","color":"#222222","strokeWidth":1.5},"encoding":{
"x":{"field":"o","type":"quantitative","axis":null,"scale":{"domain":[0,45],"range":[316,541],"nice":false,"zero":false}},"x2":{"field":"k"},
"y":{"field":"k","type":"quantitative","axis":null,"scale":{"domain":[0,45],"range":[882,657],"nice":false,"zero":false}},
"strokeDash":{"field":"s","type":"nominal","legend":null,"scale":{"domain":["dash","solid"],"range":[[6,4],[1,0]]}}}},
{"data":{"name":"grid"},"mark":{"type":"rule","color":"#222222","strokeWidth":1.5},"encoding":{
"x":{"field":"k","type":"quantitative","axis":null,"scale":{"domain":[0,45],"range":[316,541],"nice":false,"zero":false}},
"y":{"field":"o","type":"quantitative","axis":null,"scale":{"domain":[0,45],"range":[882,657],"nice":false,"zero":false}},"y2":{"field":"k"},
"strokeDash":{"field":"s","type":"nominal","legend":null,"scale":{"domain":["dash","solid"],"range":[[6,4],[1,0]]}}}},
{"data":{"name":"diag"},"mark":{"type":"line","color":"#111111","strokeWidth":1.5},"encoding":{
"x":{"field":"t","type":"quantitative","axis":null,"scale":{"domain":[0,45],"range":[315,540],"nice":false,"zero":false}},
"y":{"field":"u","type":"quantitative","axis":null,"scale":{"domain":[0,45],"range":[407,182],"nice":false,"zero":false}}}},
{"data":{"name":"diag"},"mark":{"type":"line","color":"#111111","strokeWidth":1.5},"encoding":{
"x":{"field":"t","type":"quantitative","axis":null,"scale":{"domain":[0,45],"range":[316,541],"nice":false,"zero":false}},
"y":{"field":"u","type":"quantitative","axis":null,"scale":{"domain":[0,45],"range":[882,657],"nice":false,"zero":false}}}},
{"data":{"name":"gray"},"mark":{"type":"line","color":"#8a8a8a","strokeWidth":1.4},"encoding":{
"order":{"value":null},"detail":{"field":"id"},
"x":{"field":"x","type":"quantitative","axis":null,"scale":{"domain":[0,662],"range":[0,662],"nice":false,"zero":false}},
"y":{"field":"y","type":"quantitative","axis":null,"scale":{"domain":[0,983],"range":[0,983],"nice":false,"zero":false}}}},
{"data":{"name":"redA"},"mark":{"type":"line","fill":"#b91f10","stroke":"#b91f10","strokeWidth":1},"encoding":{
"order":{"value":null},"detail":{"field":"p"},
"x":{"field":"x","type":"quantitative","axis":null,"scale":{"domain":[0,1116],"range":[290,662],"nice":false,"zero":false}},
"y":{"field":"y","type":"quantitative","axis":null,"scale":{"domain":[0,1440],"range":[0,480],"nice":false,"zero":false}}}},
{"data":{"name":"redB"},"mark":{"type":"line","fill":"#b91f10","stroke":"#b91f10","strokeWidth":1},"encoding":{
"order":{"value":null},"detail":{"field":"p"},
"x":{"field":"x","type":"quantitative","axis":null,"scale":{"domain":[0,1131],"range":[285,662],"nice":false,"zero":false}},
"y":{"field":"y","type":"quantitative","axis":null,"scale":{"domain":[0,1410],"range":[490,960],"nice":false,"zero":false}}}},
{"data":{"name":"heavy"},"mark":{"type":"line","color":"#1a1208","strokeWidth":1.8},"encoding":{
"order":{"value":null},"detail":{"field":"id"},
"x":{"field":"x","type":"quantitative","axis":null,"scale":{"domain":[0,662],"range":[0,662],"nice":false,"zero":false}},
"y":{"field":"y","type":"quantitative","axis":null,"scale":{"domain":[0,983],"range":[0,983],"nice":false,"zero":false}}}},
{"data":{"name":"thin"},"mark":{"type":"line","color":"#444444","strokeWidth":1.2},"encoding":{
"order":{"value":null},"detail":{"field":"id"},
"x":{"field":"x","type":"quantitative","axis":null,"scale":{"domain":[0,662],"range":[0,662],"nice":false,"zero":false}},
"y":{"field":"y","type":"quantitative","axis":null,"scale":{"domain":[0,983],"range":[0,983],"nice":false,"zero":false}}}},
{"data":{"name":"small"},"mark":{"type":"text","font":"Liberation Serif","fontWeight":"bold","fontSize":15.5,"color":"#1a1a1a","baseline":"alphabetic"},"encoding":{
"text":{"field":"s"},
"x":{"field":"x","type":"quantitative","axis":null,"scale":{"domain":[0,662],"range":[0,662],"nice":false,"zero":false}},
"y":{"field":"y","type":"quantitative","axis":null,"scale":{"domain":[0,983],"range":[0,983],"nice":false,"zero":false}}}},
{"data":{"name":"titles"},"mark":{"type":"text","font":"Liberation Serif","fontWeight":"bold","fontSize":34,"color":"#111111","align":"left","baseline":"alphabetic"},"encoding":{
"text":{"field":"s"},
"x":{"field":"x","type":"quantitative","axis":null,"scale":{"domain":[0,662],"range":[0,662],"nice":false,"zero":false}},
"y":{"field":"y","type":"quantitative","axis":null,"scale":{"domain":[0,983],"range":[0,983],"nice":false,"zero":false}}}},
{"data":{"name":"letters"},"mark":{"type":"text","font":"Liberation Serif","fontStyle":"italic","fontWeight":"bold","fontSize":27,"color":"#111111","align":"left","baseline":"alphabetic"},"encoding":{
"text":{"field":"s"},
"x":{"field":"x","type":"quantitative","axis":null,"scale":{"domain":[0,662],"range":[0,662],"nice":false,"zero":false}},
"y":{"field":"y","type":"quantitative","axis":null,"scale":{"domain":[0,983],"range":[0,983],"nice":false,"zero":false}}}},
{"data":{"name":"down"},"mark":{"type":"text","font":"Liberation Serif","fontWeight":"bold","fontSize":17,"color":"#1a1a1a","angle":45,"baseline":"middle"},"encoding":{
"text":{"field":"s"},
"x":{"field":"x","type":"quantitative","axis":null,"scale":{"domain":[0,662],"range":[0,662],"nice":false,"zero":false}},
"y":{"field":"y","type":"quantitative","axis":null,"scale":{"domain":[0,983],"range":[0,983],"nice":false,"zero":false}}}},
{"data":{"name":"up"},"mark":{"type":"text","font":"Liberation Serif","fontWeight":"bold","fontSize":17,"color":"#1a1a1a","angle":315,"baseline":"middle"},"encoding":{
"text":{"field":"s"},
"x":{"field":"x","type":"quantitative","axis":null,"scale":{"domain":[0,662],"range":[0,662],"nice":false,"zero":false}},
"y":{"field":"y","type":"quantitative","axis":null,"scale":{"domain":[0,983],"range":[0,983],"nice":false,"zero":false}}}}
]
}
